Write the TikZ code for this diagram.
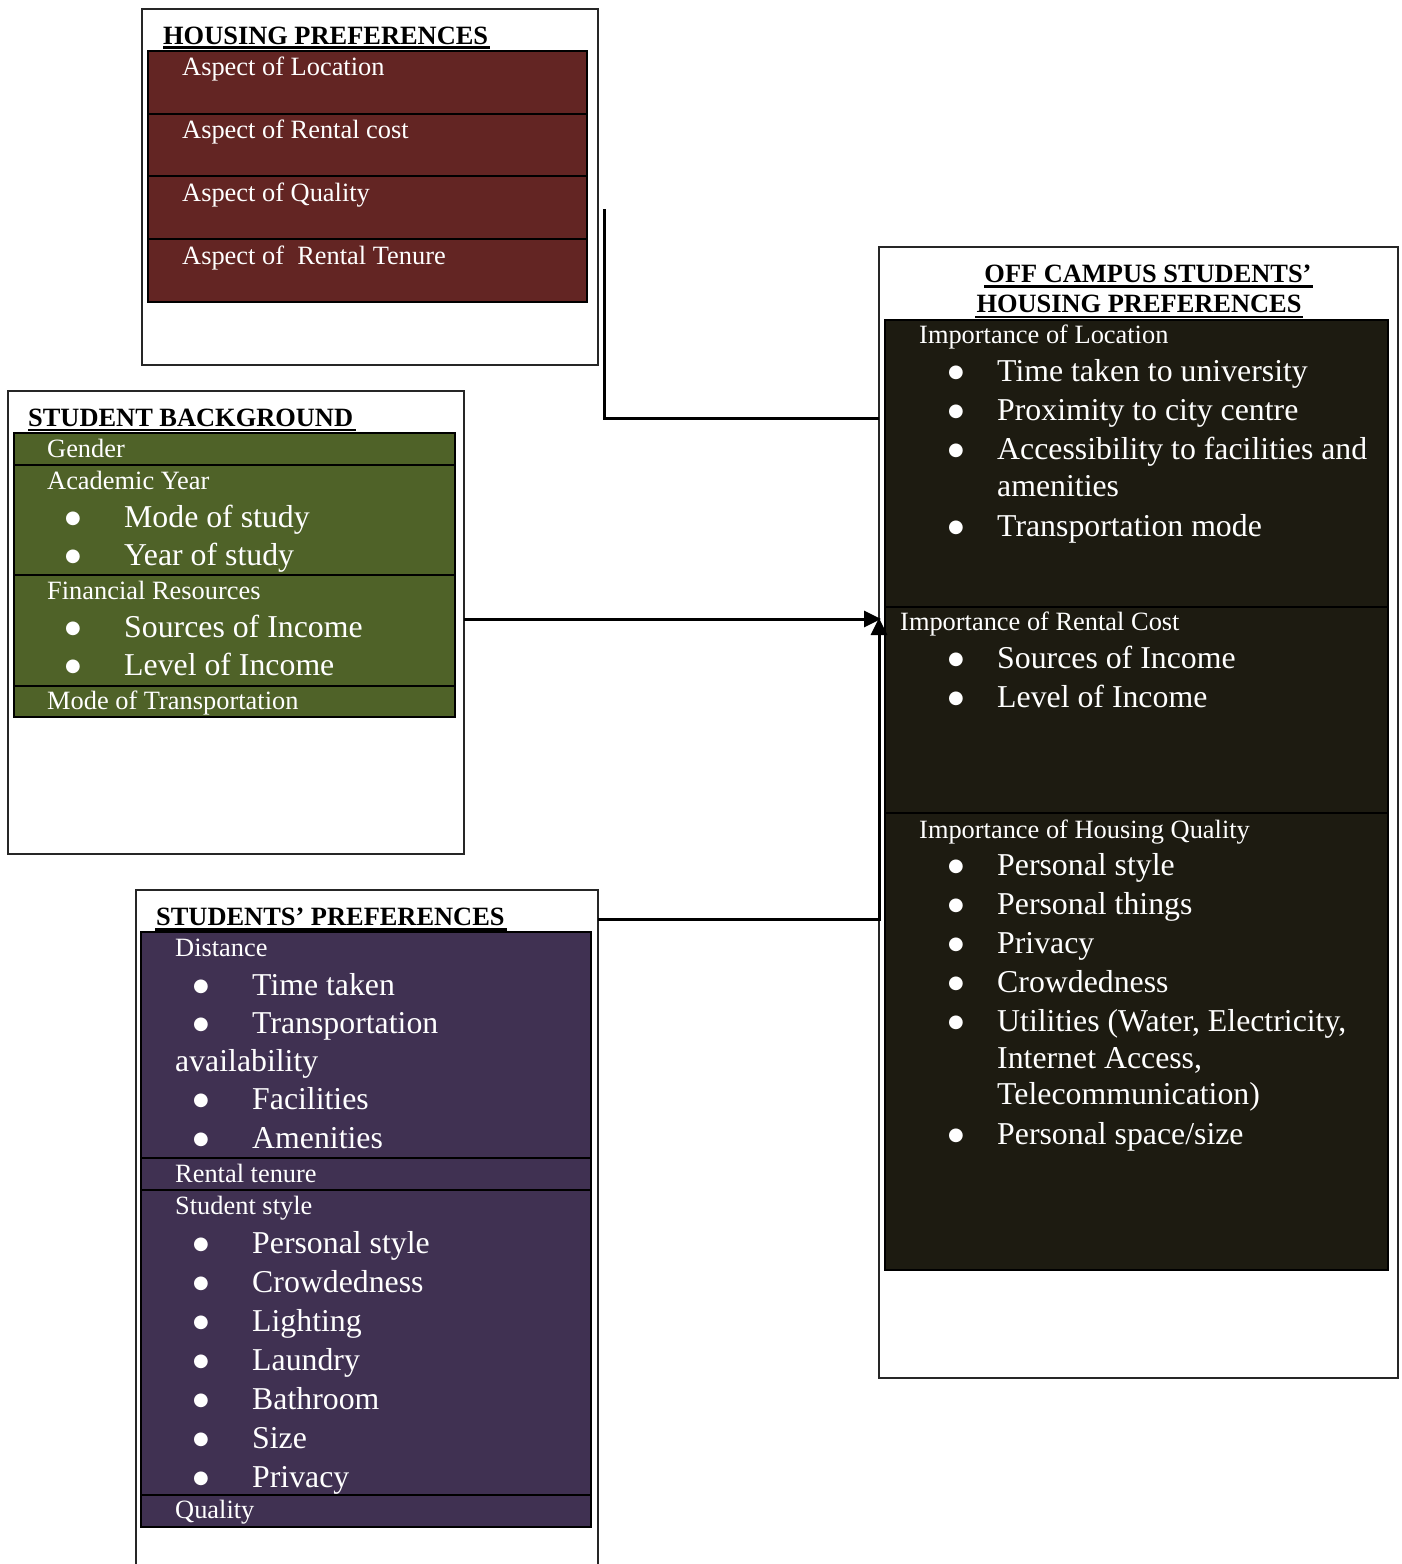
\documentclass[tikz,border=0pt]{standalone}
\usepackage{fontspec}
\setmainfont{Liberation Serif}
\newfontfamily\bulfont{DejaVu Sans}
\usetikzlibrary{arrows.meta}
\definecolor{maroonbox}{HTML}{632523}
\definecolor{greenbox}{HTML}{4F6228}
\definecolor{purplebox}{HTML}{403152}
\definecolor{darkbox}{HTML}{1D1B11}
\tikzset{
  outerbox/.style={draw=black!85, line width=1.6pt},
  rowbox/.style={draw=black, line width=2.4pt, fill=#1},
  lbl/.style={anchor=base west, inner sep=0pt, text=white, font=\fontsize{26.4}{31}\selectfont},
  big/.style={anchor=base west, inner sep=0pt, text=white, font=\fontsize{31.8}{37}\selectfont},
  bul/.style={anchor=base, inner sep=0pt, yshift=4pt, text=white, font=\bulfont\fontsize{18}{24}\selectfont},
  head/.style={anchor=base west, inner sep=0pt, font=\bfseries\fontsize{26.4}{31}\selectfont},
  headc/.style={anchor=base, inner sep=0pt, font=\bfseries\fontsize{26.4}{31}\selectfont},
  uline/.style={line width=2.2pt},
  conn/.style={draw=black, line width=3pt},
  tip/.style={-{Triangle[length=17pt,width=16pt]}}
}
\begin{document}
\begin{tikzpicture}[x=1pt,y=-1pt]
\useasboundingbox (0,0) rectangle (1402,1564);

% ---------- Box 1: Housing preferences ----------
\node[outerbox, anchor=north west, minimum width=456pt, minimum height=356pt, inner sep=0pt, outer sep=0pt] (hpbox) at (142,9) {};
\node[head] (hph) at (163,44) {HOUSING PREFERENCES};
\draw[uline] (163,47.5) -- (490,47.5);
\draw[rowbox=maroonbox] (148,51) rectangle (587,114);
\draw[rowbox=maroonbox] (148,114) rectangle (587,176);
\draw[rowbox=maroonbox] (148,176) rectangle (587,239);
\draw[rowbox=maroonbox] (148,239) rectangle (587,302);
\node[lbl] (hp1) at (182,75) {Aspect of Location};
\node[lbl] (hp2) at (182,138) {Aspect of Rental cost};
\node[lbl] (hp3) at (182,201) {Aspect of Quality};
\node[lbl] (hp4) at (182,264) {Aspect of\ \ Rental Tenure};

% ---------- Box 2: Student background ----------
\node[outerbox, anchor=north west, minimum width=456pt, minimum height=463pt, inner sep=0pt, outer sep=0pt] (sbbox) at (8,391) {};
\node[head] (sbh) at (28,426) {STUDENT BACKGROUND};
\draw[uline] (28,430) -- (356,430);
\draw[rowbox=greenbox] (14,433) rectangle (455,465);
\draw[rowbox=greenbox] (14,465) rectangle (455,575);
\draw[rowbox=greenbox] (14,575) rectangle (455,686);
\draw[rowbox=greenbox] (14,686) rectangle (455,717);
\node[lbl] (sb1) at (47,457) {Gender};
\node[lbl] (sb2) at (47,489) {Academic Year};
\node[bul] (sbb1) at (73,527) {●};
\node[big] (sb3) at (124,527) {Mode of study};
\node[bul] (sbb2) at (73,565) {●};
\node[big] (sb4) at (124,565) {Year of study};
\node[lbl] (sb5) at (47,599) {Financial Resources};
\node[bul] (sbb3) at (73,637) {●};
\node[big] (sb6) at (124,637) {Sources of Income};
\node[bul] (sbb4) at (73,675) {●};
\node[big] (sb7) at (124,675) {Level of Income};
\node[lbl] (sb8) at (47,709) {Mode of Transportation};

% ---------- Box 3: Students' preferences ----------
\draw[outerbox] (136,1566) -- (136,890) -- (598,890) -- (598,1566);
\coordinate (spr) at (598,919);
\node[head] (sph) at (156,925) {STUDENTS’ PREFERENCES};
\draw[uline] (155,929.5) -- (507,929.5);
\draw[rowbox=purplebox] (141,932) rectangle (591,1158);
\draw[rowbox=purplebox] (141,1158) rectangle (591,1190);
\draw[rowbox=purplebox] (141,1190) rectangle (591,1495);
\draw[rowbox=purplebox] (141,1495) rectangle (591,1527);
\node[lbl] (sp1) at (175,956) {Distance};
\node[bul] (spb1) at (201,995) {●};
\node[big] (sp2) at (252,995) {Time taken};
\node[bul] (spb2) at (201,1033) {●};
\node[big] (sp3) at (252,1033) {Transportation};
\node[big] (sp4) at (175,1071) {availability};
\node[bul] (spb3) at (201,1109) {●};
\node[big] (sp5) at (252,1109) {Facilities};
\node[bul] (spb4) at (201,1148) {●};
\node[big] (sp6) at (252,1148) {Amenities};
\node[lbl] (sp7) at (175,1182) {Rental tenure};
\node[lbl] (sp8) at (175,1214) {Student style};
\node[bul] (spb5) at (201,1253) {●};
\node[big] (sp9) at (252,1253) {Personal style};
\node[bul] (spb6) at (201,1292) {●};
\node[big] (sp10) at (252,1292) {Crowdedness};
\node[bul] (spb7) at (201,1331) {●};
\node[big] (sp11) at (252,1331) {Lighting};
\node[bul] (spb8) at (201,1370) {●};
\node[big] (sp12) at (252,1370) {Laundry};
\node[bul] (spb9) at (201,1409) {●};
\node[big] (sp13) at (252,1409) {Bathroom};
\node[bul] (spb10) at (201,1448) {●};
\node[big] (sp14) at (252,1448) {Size};
\node[bul] (spb11) at (201,1487) {●};
\node[big] (sp15) at (252,1487) {Privacy};
\node[lbl] (sp16) at (175,1518) {Quality};

% ---------- Box 4: Off campus students' housing preferences ----------
\node[outerbox, anchor=north west, minimum width=519pt, minimum height=1131pt, inner sep=0pt, outer sep=0pt] (ocbox) at (879,247) {};
\node[headc] (och1) at (1148,282) {OFF CAMPUS STUDENTS’};
\draw[uline] (984,286.5) -- (1313,286.5);
\node[headc] (och2) at (1139,312) {HOUSING PREFERENCES};
\draw[uline] (975,317) -- (1303,317);
\draw[rowbox=darkbox] (885,320) rectangle (1388,607);
\draw[rowbox=darkbox] (885,607) rectangle (1388,813);
\draw[rowbox=darkbox] (885,813) rectangle (1388,1270);
\node[lbl] (oc1) at (919,343) {Importance of Location};
\node[bul] (ocb1) at (956,381) {●};
\node[big] (oc2) at (997,381) {Time taken to university};
\node[bul] (ocb2) at (956,420) {●};
\node[big] (oc3) at (997,420) {Proximity to city centre};
\node[bul] (ocb3) at (956,459) {●};
\node[big] (oc4) at (997,459) {Accessibility to facilities and};
\node[big] (oc5) at (997,496) {amenities};
\node[bul] (ocb4) at (956,536) {●};
\node[big] (oc6) at (997,536) {Transportation mode};
\node[lbl] (oc7) at (900,630) {Importance of Rental Cost};
\node[bul] (ocb5) at (956,668) {●};
\node[big] (oc8) at (997,668) {Sources of Income};
\node[bul] (ocb6) at (956,707) {●};
\node[big] (oc9) at (997,707) {Level of Income};
\node[lbl] (oc10) at (919,838) {Importance of Housing Quality};
\node[bul] (ocb7) at (956,875) {●};
\node[big] (oc11) at (997,875) {Personal style};
\node[bul] (ocb8) at (956,914) {●};
\node[big] (oc12) at (997,914) {Personal things};
\node[bul] (ocb9) at (956,953) {●};
\node[big] (oc13) at (997,953) {Privacy};
\node[bul] (ocb10) at (956,992) {●};
\node[big] (oc14) at (997,992) {Crowdedness};
\node[bul] (ocb11) at (956,1031) {●};
\node[big] (oc15) at (997,1031) {Utilities (Water, Electricity,};
\node[big] (oc16) at (997,1068) {Internet Access,};
\node[big] (oc17) at (997,1104) {Telecommunication)};
\node[bul] (ocb12) at (956,1144) {●};
\node[big] (oc18) at (997,1144) {Personal space/size};

% ---------- Connectors ----------
\coordinate (hpout) at (604,209);
\coordinate (octop) at (879,418);
\coordinate (sbout) at (464,619);
\coordinate (ocmid) at (881,619);
\coordinate (ocup) at (879,618);
\draw[conn] (hpout) |- (octop);
\draw[conn, tip] (sbout) -- (ocmid);
\draw[conn, tip] (spr) -| (ocup);
\end{tikzpicture}
\end{document}
